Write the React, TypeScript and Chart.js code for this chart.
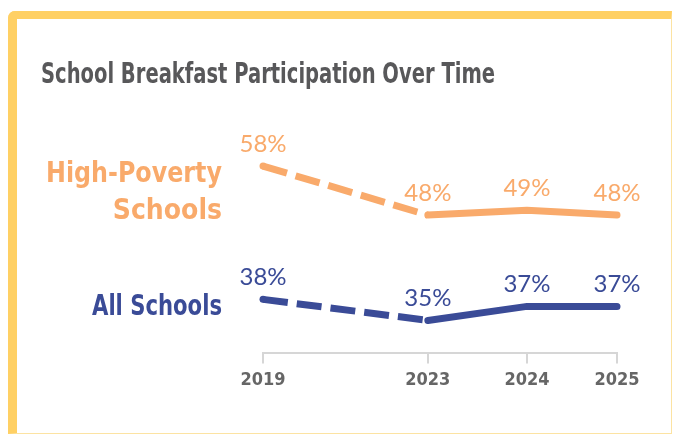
import React, { useEffect, useRef } from 'react';
import { Chart, registerables } from 'chart.js';

Chart.register(...registerables);

// ---- data ----
const chartTitle = 'School Breakfast Participation Over Time';
const years = ['2019', '2023', '2024', '2025'];
// horizontal slot of each year on the axis (the axis is not proportional to time)
const yearSlots = [0, 1.83, 2.93, 3.93];
const highPovertyRates = [58, 48, 49, 48];
const allSchoolsRates = [38, 35, 37, 37];
const highPovertyName = ['High-Poverty', 'Schools'];
const allSchoolsName = ['All Schools'];

const ORANGE = '#F9AA6B';
const NAVY = '#3A4B97';
const CONDENSED = '"Liberation Sans Narrow", "DejaVu Sans Condensed", "Open Sans", sans-serif';

const textPlugin = {
  id: 'textPlugin',
  afterDatasetsDraw(chart: any) {
    const ctx = chart.ctx as CanvasRenderingContext2D;
    ctx.save();
    // title
    ctx.font = `bold 29px ${CONDENSED}`;
    ctx.fillStyle = '#58585A';
    ctx.textAlign = 'left';
    ctx.textBaseline = 'alphabetic';
    ctx.fillText(chartTitle, 24, 64, 454);

    chart.data.datasets.forEach((ds: any, di: number) => {
      const meta = chart.getDatasetMeta(di);
      const color = ds.borderColor;
      // value labels
      ctx.font = `24px Lato, "Open Sans", sans-serif`;
      ctx.fillStyle = color;
      ctx.textAlign = 'center';
      meta.data.forEach((pt: any, i: number) => {
        const v = ds.data[i].y;
        ctx.fillText(`${v}%`, pt.x, pt.y - 14);
      });
      // series name at the left
      const first = meta.data[0];
      ctx.font = `bold 28px ${CONDENSED}`;
      ctx.textAlign = 'right';
      const lines: string[] = ds.nameLines;
      lines.forEach((line, li) => {
        ctx.fillText(line, first.x - 41, first.y + 16 + li * 37, ds.nameMaxWidth);
      });
    });
    ctx.restore();
  },
};

function makeDataset(label: string, lines: string[], values: number[], color: string, axis: string, nameMaxWidth: number) {
  return {
    label,
    nameLines: lines,
    nameMaxWidth,
    data: values.map((v, i) => ({ x: yearSlots[i], y: v })),
    borderColor: color,
    backgroundColor: color,
    borderWidth: 7,
    borderCapStyle: 'round',
    borderJoinStyle: 'miter',
    pointRadius: (c: any) => (c.dataIndex === 0 ? 3.5 : 0),
    pointBorderWidth: 0,
    pointBackgroundColor: color,
    pointHoverRadius: 0,
    tension: 0,
    clip: false,
    yAxisID: axis,
    segment: {
      borderDash: (c: any) => (c.p0DataIndex === 0 ? [25, 9] : []),
      borderCapStyle: (c: any) => (c.p0DataIndex === 0 ? 'butt' : 'round'),
    },
  };
}

export default function App() {
  const ref = useRef<HTMLCanvasElement>(null);
  useEffect(() => {
    if (!ref.current) return;
    const chart = new Chart(ref.current, {
      type: 'line',
      data: {
        datasets: [
          makeDataset('High-Poverty Schools', highPovertyName, highPovertyRates, ORANGE, 'yHigh', 176),
          makeDataset('All Schools', allSchoolsName, allSchoolsRates, NAVY, 'yAll', 130),
        ] as any,
      },
      options: {
        animation: false,
        responsive: false,
        devicePixelRatio: 1,
        layout: { padding: { left: 246, right: 54, top: 100, bottom: 36 } },
        plugins: { legend: { display: false }, tooltip: { enabled: false }, title: { display: false } },
        events: [],
        scales: {
          x: {
            type: 'linear',
            min: yearSlots[0],
            max: yearSlots[yearSlots.length - 1],
            afterBuildTicks: (axis: any) => {
              axis.ticks = yearSlots.map((v) => ({ value: v }));
            },
            grid: {
              display: true,
              drawOnChartArea: false,
              drawTicks: true,
              tickLength: 10,
              color: '#D6D6D6',
              lineWidth: 2,
            },
            border: { display: true, color: '#D6D6D6', width: 2 },
            ticks: {
              autoSkip: false,
              maxRotation: 0,
              color: '#666666',
              padding: 6,
              font: { family: CONDENSED, size: 18, weight: 'bold' },
              callback: (v: any) => {
                const idx = yearSlots.indexOf(Number(v));
                return idx >= 0 ? years[idx] : '';
              },
            },
          },
          yHigh: { type: 'linear', display: false, min: 19.8, max: 67.6 },
          yAll: { type: 'linear', display: false, min: 30.3, max: 63.7 },
        },
      } as any,
      plugins: [textPlugin],
    });
    return () => chart.destroy();
  }, []);

  return (
    <div
      style={{
        position: 'absolute',
        left: 8,
        top: 11,
        width: 664,
        height: 423,
        boxSizing: 'border-box',
        borderTop: '8px solid #FFD064',
        borderLeft: '9px solid #FFD064',
        borderRight: '1px solid #FCE3A2',
        borderBottom: '1px solid #FCE3A2',
        borderTopLeftRadius: 7,
        background: '#fff',
      }}
    >
      <canvas ref={ref} width={654} height={414} style={{ display: 'block' }} />
    </div>
  );
}
